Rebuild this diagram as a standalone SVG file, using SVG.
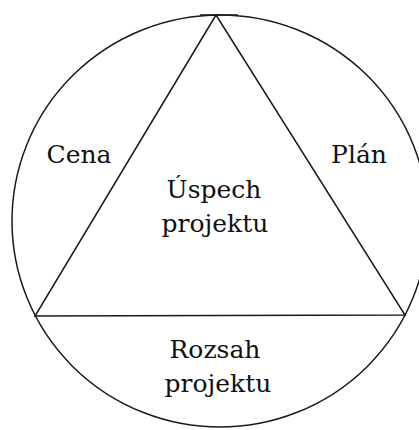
<svg xmlns="http://www.w3.org/2000/svg" width="419" height="430" viewBox="0 0 419 430">
<style>
.ln{fill:none;stroke:#1a1a1a;stroke-width:1.5}
.t{font-family:"DejaVu Serif",serif;font-size:25px;fill:#111;text-anchor:middle}
</style>
<rect width="419" height="430" fill="#fff"/>
<g id="circle"><ellipse class="ln" cx="220" cy="221" rx="208" ry="206"/><line class="ln" x1="200" y1="15" x2="238" y2="15"/></g>
<g id="connectors">
<polygon class="ln" points="216,15 35,316 405,315"/>
</g>
<g id="cena"><text class="t" x="79" y="163">Cena</text></g>
<g id="plan"><text class="t" x="359" y="163">Plán</text></g>
<g id="uspech"><text class="t" x="214" y="198">Úspech</text><text class="t" x="215" y="232">projektu</text></g>
<g id="rozsah"><text class="t" x="215" y="358">Rozsah</text><text class="t" x="218" y="392">projektu</text></g>
</svg>
